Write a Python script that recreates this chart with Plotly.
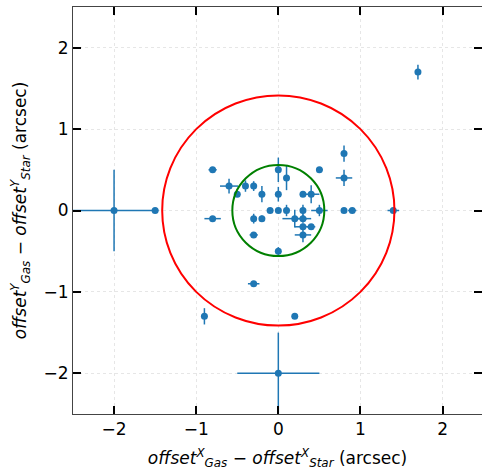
import plotly.graph_objects as go

# Gas-minus-star positional offsets (arcsec) with uncertainties
dx = [0.8, -0.8, 0.0, 0.5, 0.1, 0.8, -0.6, -0.4, -0.3, -0.5, -0.2, 0.0, 0.3, 0.4,
      -0.1, 0.0, 0.1, 0.3, 0.5, 0.8, 0.9, -0.8, -0.3, -0.2, 0.2, 0.3, 0.3, 0.4,
      0.3, -0.3, 0.0, -0.3, -0.9, 0.2, 0.0, -2.0, -1.5, 1.7, 1.4]
dy = [0.7, 0.5, 0.5, 0.5, 0.4, 0.4, 0.3, 0.3, 0.3, 0.2, 0.2, 0.2, 0.2, 0.2,
      0.0, 0.0, 0.0, 0.0, 0.0, 0.0, 0.0, -0.1, -0.1, -0.1, -0.1, -0.1, -0.2, -0.2,
      -0.3, -0.3, -0.5, -0.9, -1.3, -1.3, -2.0, 0.0, 0.0, 1.7, 0.0]
dx_err = [0.03, 0.05, 0.02, 0.04, 0.02, 0.10, 0.11, 0.02, 0.03, 0.03, 0.02, 0.02, 0.03, 0.10,
          0.03, 0.02, 0.03, 0.02, 0.10, 0.02, 0.05, 0.10, 0.02, 0.03, 0.15, 0.10, 0.10, 0.05,
          0.10, 0.05, 0.02, 0.07, 0.02, 0.0, 0.5, 0.5, 0.04, 0.03, 0.07]
dy_err = [0.10, 0.02, 0.15, 0.02, 0.15, 0.10, 0.09, 0.07, 0.06, 0.02, 0.10, 0.09, 0.02, 0.11,
          0.02, 0.02, 0.07, 0.07, 0.07, 0.02, 0.02, 0.02, 0.06, 0.04, 0.11, 0.05, 0.04, 0.02,
          0.09, 0.02, 0.05, 0.02, 0.10, 0.0, 0.5, 0.5, 0.02, 0.09, 0.02]

# Reference circles (radius in arcsec)
r_outer = 1.414
r_inner = 0.56

ticks = [-2, -1, 0, 1, 2]
tick_text = ["\u22122", "\u22121", "0", "1", "2"]

blue = "#1f77b4"

fig = go.Figure()
fig.add_trace(go.Scatter(
    x=dx, y=dy, mode="markers",
    marker=dict(color=blue, size=7),
    error_x=dict(type="data", array=dx_err, color=blue, thickness=1.5, width=0),
    error_y=dict(type="data", array=dy_err, color=blue, thickness=1.5, width=0),
    showlegend=False,
))

fig.add_shape(type="circle", xref="x", yref="y",
              x0=-r_outer, x1=r_outer, y0=-r_outer, y1=r_outer,
              line=dict(color="red", width=2), layer="above")
fig.add_shape(type="circle", xref="x", yref="y",
              x0=-r_inner, x1=r_inner, y0=-r_inner, y1=r_inner,
              line=dict(color="green", width=2), layer="above")

axis_common = dict(
    tickmode="array", tickvals=ticks, ticktext=tick_text,
    ticks="inside", ticklen=8, tickwidth=1.5, tickcolor="black",
    showline=True, linecolor="#444", linewidth=1, mirror="ticks",
    showgrid=True, gridcolor="#e6e6e6", gridwidth=1, griddash="dot",
    zeroline=False,
    tickfont=dict(family="DejaVu Sans", size=17, color="black"),
)

fig.update_xaxes(
    **axis_common,
    range=[-2.5, 2.48],
    title=dict(
        text="<i>offset</i><sup><i>X</i></sup><sub><i>Gas</i></sub> \u2212 "
             "<i>offset</i><sup><i>X</i></sup><sub><i>Star</i></sub> (arcsec)",
        font=dict(family="DejaVu Sans", size=17, color="black"), standoff=13),
)
fig.update_yaxes(
    **axis_common,
    range=[-2.5, 2.5],
    title=dict(
        text="<i>offset</i><sup><i>Y</i></sup><sub><i>Gas</i></sub> \u2212 "
             "<i>offset</i><sup><i>Y</i></sup><sub><i>Star</i></sub> (arcsec)",
        font=dict(family="DejaVu Sans", size=17, color="black"), standoff=12),
)

fig.update_layout(
    width=482, height=471,
    margin=dict(l=73, r=0, t=7, b=57),
    plot_bgcolor="white", paper_bgcolor="white",
)

fig.write_html("out.html")
